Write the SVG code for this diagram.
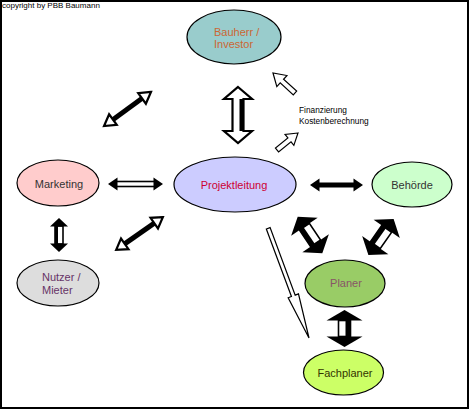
<svg xmlns="http://www.w3.org/2000/svg" width="470" height="410" viewBox="0 0 470 410">
<style>
text{font-family:"Liberation Sans",Arial,sans-serif;font-size:11px}
.node ellipse{stroke:#000;stroke-width:1.2}
.blk{fill:#000}
.hw{fill:#fff;stroke:#000;stroke-width:2.2;stroke-linejoin:miter}
.wht{fill:#fff;stroke:#000;stroke-width:1.6}
.thin{fill:#fff;stroke:#000;stroke-width:1.2;stroke-linejoin:miter}
.mid{text-anchor:middle}
</style>
<rect x="1" y="1" width="467" height="407" fill="#fff" stroke="#000" stroke-width="2"/>
<text x="2" y="8" style="font-size:8px">copyright by PBB Baumann</text>

<g id="connectors">
  <g id="a-bauherr-left" transform="translate(127.5,109) rotate(-36)">
    <rect x="-19" y="-2.5" width="38" height="5" class="blk"/>
    <polygon class="hw" points="29,0 18,-6.5 18,6.5"/>
    <polygon class="hw" points="-29,0 -18,-6.5 -18,6.5"/>
  </g>
  <g id="a-nutzer-projekt" transform="translate(139.5,233.5) rotate(-35)">
    <rect x="-19" y="-2.5" width="38" height="5" class="blk"/>
    <polygon class="hw" points="28.5,0 18,-6.5 18,6.5"/>
    <polygon class="hw" points="-28.5,0 -18,-6.5 -18,6.5"/>
  </g>
  <g id="a-bauherr-projekt" transform="translate(238,115)">
    <polygon class="hw" points="0,-28 14,-16 5.5,-16 5.5,16 14,16 0,28 -14,16 -5.5,16 -5.5,-16 -14,-16"/>
    <rect x="1.5" y="-16" width="4" height="32" class="blk"/>
  </g>
  <g id="a-marketing-projekt" transform="translate(135.5,184)">
    <rect x="-20" y="-2.5" width="40" height="5" class="wht"/>
    <polygon class="blk" points="27.5,0 18,-6.5 18,6.5"/>
    <polygon class="blk" points="-27.5,0 -18,-6.5 -18,6.5"/>
  </g>
  <g id="a-marketing-nutzer" transform="translate(59,235)">
    <rect x="-4" y="-9" width="8" height="18" class="wht"/>
    <rect x="-4" y="-9" width="3" height="18" class="blk"/>
    <polygon class="blk" points="0,-17 -9,-8.5 9,-8.5"/>
    <polygon class="blk" points="0,17 -9,8.5 9,8.5"/>
  </g>
  <g id="a-projekt-behoerde" transform="translate(336.5,185)">
    <rect x="-18" y="-2.5" width="36" height="5" class="blk"/>
    <polygon class="blk" points="26.5,0 17,-6.5 17,6.5"/>
    <polygon class="blk" points="-26.5,0 -17,-6.5 -17,6.5"/>
  </g>
  <g id="a-fin-up" transform="translate(273,73) rotate(-137.7)">
    <polygon class="thin" points="0,0 -12,-7.5 -12,-2.5 -29.7,-2.5 -29.7,2.5 -12,2.5 -12,7.5"/>
  </g>
  <g id="a-fin-down" transform="translate(298,133) rotate(-39)">
    <polygon class="thin" points="0,0 -11,-7 -11,-2.5 -27,-2.5 -27,2.5 -11,2.5 -11,7"/>
  </g>
  <g id="a-projekt-fachplaner" transform="translate(309,338) rotate(69.6)">
    <polygon class="thin" points="0,0 -45,-5.5 -45,-2 -117,-2 -117,2 -45,2 -45,5.5"/>
  </g>
  <g id="a-projekt-planer" transform="translate(310,235) rotate(56)">
    <rect x="-10" y="-6" width="20" height="12" class="wht"/>
    <rect x="-10" y="1" width="20" height="5" class="blk"/>
    <polygon class="blk" points="22,0 10,-16 10,16"/>
    <polygon class="blk" points="-22,0 -10,-16 -10,16"/>
  </g>
  <g id="a-behoerde-planer" transform="translate(381,237) rotate(125)">
    <rect x="-10" y="-6" width="20" height="12" class="wht"/>
    <rect x="-10" y="1" width="20" height="5" class="blk"/>
    <polygon class="blk" points="22,0 10,-16 10,16"/>
    <polygon class="blk" points="-22,0 -10,-16 -10,16"/>
  </g>
  <g id="a-planer-fachplaner" transform="translate(344.5,328.5)">
    <rect x="-6" y="-8" width="12" height="16" class="wht"/>
    <rect x="1" y="-8" width="5" height="16" class="blk"/>
    <polygon class="blk" points="0,-18.5 -18,-8 18,-8"/>
    <polygon class="blk" points="0,18.5 -18,8 18,8"/>
  </g>
</g>

<text x="299" y="113" style="font-size:8.3px">Finanzierung</text>
<text x="299" y="124" style="font-size:8.3px">Kostenberechnung</text>

<g id="bauherr" class="node">
  <ellipse cx="234" cy="37" rx="47" ry="27" fill="#99cccc"/>
  <text x="214" y="36" fill="#cc6633">Bauherr /</text>
  <text x="214" y="48" fill="#cc6633">Investor</text>
</g>
<g id="projektleitung" class="node">
  <ellipse cx="235" cy="184.5" rx="61" ry="27.5" fill="#ccccff"/>
  <text x="234" y="189" class="mid" fill="#cc0033">Projektleitung</text>
</g>
<g id="marketing" class="node">
  <ellipse cx="58" cy="183" rx="41" ry="23" fill="#ffcccc"/>
  <text x="59" y="188" class="mid" fill="#333333">Marketing</text>
</g>
<g id="behoerde" class="node">
  <ellipse cx="412" cy="184.5" rx="40" ry="22.5" fill="#ccffcc"/>
  <text x="412" y="189" class="mid" fill="#333333">Behörde</text>
</g>
<g id="nutzer" class="node">
  <ellipse cx="58" cy="283" rx="41" ry="23" fill="#dddddd"/>
  <text x="42" y="281" fill="#663366">Nutzer /</text>
  <text x="42" y="294" fill="#663366">Mieter</text>
</g>
<g id="planer" class="node">
  <ellipse cx="345" cy="283.5" rx="40" ry="23.5" fill="#99cc66"/>
  <text x="346" y="287" class="mid" fill="#885566">Planer</text>
</g>
<g id="fachplaner" class="node">
  <ellipse cx="343.5" cy="372.5" rx="40" ry="22.5" fill="#ccff66"/>
  <text x="345" y="377" class="mid" fill="#333300">Fachplaner</text>
</g>
</svg>
